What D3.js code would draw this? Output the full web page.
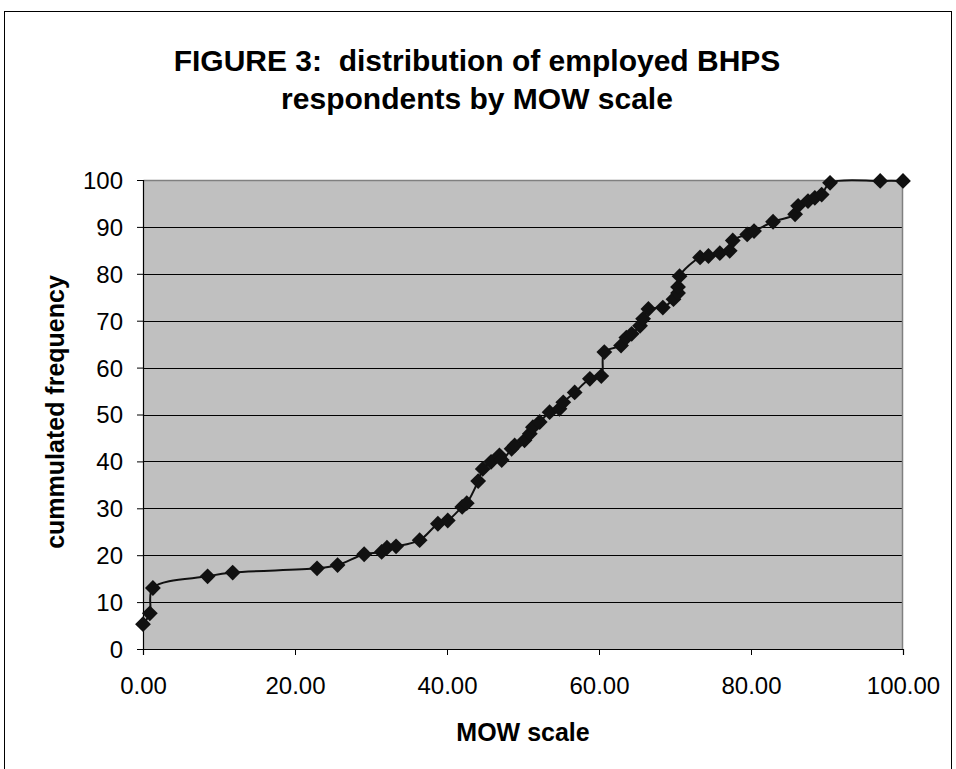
<!DOCTYPE html>
<html>
<head>
<meta charset="utf-8">
<script src="https://cdn.jsdelivr.net/npm/d3@7"></script>
<style>
  body { margin: 0; background: #fff; }
  text { font-family: "Liberation Sans", Arial, sans-serif; }
</style>
</head>
<body>
<div id="chart"></div>
<script>
// ========== data ==========
var mowScale = [0, 0.9, 1.3, 8.5, 11.8, 22.9, 25.6, 29.1, 31.4, 32.1, 33.3, 36.4, 38.8, 40.1, 42.0, 42.6,
  44.1, 44.7, 45.8, 46.9, 47.2, 48.5, 48.9, 50.2, 50.9, 51.3, 52.2, 53.5, 54.8, 55.3, 56.8, 58.8, 60.3,
  60.7, 62.9, 63.6, 64.3, 65.4, 65.8, 66.5, 68.4, 69.8, 70.4, 70.4, 70.6, 73.3, 74.4, 75.9, 77.2, 77.6,
  79.5, 80.4, 82.9, 85.8, 86.2, 87.5, 88.4, 89.3, 90.4, 97.0, 100];
var cumFreq = [5.3, 7.6, 13.0, 15.5, 16.3, 17.2, 17.9, 20.2, 20.7, 21.6, 21.9, 23.2, 26.7, 27.4, 30.3, 31.1,
  35.8, 38.4, 39.9, 41.3, 40.3, 42.7, 43.4, 44.5, 45.9, 47.3, 48.4, 50.5, 51.2, 52.6, 54.7, 57.6, 58.2,
  63.3, 64.7, 66.4, 67.2, 68.9, 70.4, 72.5, 72.8, 74.6, 75.9, 77.2, 79.5, 83.5, 83.8, 84.4, 84.9, 87.1,
  88.4, 89.1, 91.1, 92.7, 94.5, 95.5, 96.2, 96.9, 99.4, 99.8, 99.8];
var xTicks = [0, 20, 40, 60, 80, 100];
var yTicks = [0, 10, 20, 30, 40, 50, 60, 70, 80, 90, 100];

var data = mowScale.map(function(x, i) { return {x: x, y: cumFreq[i]}; });

// ========== chart setup ==========
var svgWidth = 956, svgHeight = 769;
var margin = {top: 180, right: 53, bottom: 120, left: 143};
var width = 903 - margin.left;
var height = 649 - margin.top;

var svg = d3.select("#chart").append("svg").attr("width", svgWidth).attr("height", svgHeight);

// outer frame
svg.append("rect").attr("x", 4.5).attr("y", 11.5).attr("width", 947).attr("height", 780)
  .attr("fill", "none").attr("stroke", "#000").attr("stroke-width", 1);

var g = svg.append("g").attr("transform", `translate(${margin.left}, ${margin.top})`);

// ========== scales ==========
var xScale = d3.scaleLinear().domain([0, 100]).range([0, width]);
var yScale = d3.scaleLinear().domain([0, 100]).range([height, 0]);

// plot area
g.append("rect").attr("width", width).attr("height", height).attr("fill", "#c0c0c0");

// gridlines
g.append("g").selectAll("line").data(yTicks.filter(d => d > 0 && d < 100)).enter().append("line")
  .attr("x1", 0).attr("x2", width)
  .attr("y1", d => Math.round(yScale(d)) + 0.5).attr("y2", d => Math.round(yScale(d)) + 0.5)
  .attr("stroke", "#000").attr("stroke-width", 1);

// plot border (top/right grey)
g.append("path").attr("d", `M0.5,0.5H${width - 0.5}V${height}`)
  .attr("fill", "none").attr("stroke", "#808080").attr("stroke-width", 1.5);

// ========== axes ==========
var xAxis = d3.axisBottom(xScale).tickValues(xTicks).tickSize(6).tickPadding(22)
  .tickFormat(d3.format(".2f"));
var yAxis = d3.axisLeft(yScale).tickValues(yTicks).tickSize(6).tickPadding(14);

var gx = g.append("g").attr("transform", `translate(0, ${height})`).call(xAxis);
var gy = g.append("g").call(yAxis);
[gx, gy].forEach(function(a) {
  a.select(".domain").attr("stroke", "#000").attr("stroke-width", 1.2);
  a.selectAll(".tick line").attr("stroke", "#000");
  a.selectAll(".tick text").attr("font-size", "24px").attr("fill", "#000")
    .attr("font-family", "'Liberation Sans', Arial, sans-serif");
});
gy.selectAll(".tick text").attr("dy", "0.35em");

// ========== line and markers ==========
var line = d3.line().x(d => xScale(d.x)).y(d => yScale(d.y)).curve(d3.curveCatmullRom.alpha(0.5));

g.append("path").datum(data).attr("d", line)
  .attr("fill", "none").attr("stroke", "#111").attr("stroke-width", 2);

g.append("g").selectAll("path").data(data).enter().append("path")
  .attr("d", d3.symbol(d3.symbolSquare, 125))
  .attr("transform", d => `translate(${xScale(d.x)}, ${yScale(d.y)}) rotate(45)`)
  .attr("fill", "#111");

// ========== titles ==========
svg.append("text").attr("x", 477).attr("y", 71).attr("text-anchor", "middle")
  .attr("font-size", "30px").style("font-weight", "bold").attr("xml:space", "preserve")
  .text("FIGURE 3:  distribution of employed BHPS");
svg.append("text").attr("x", 477).attr("y", 109).attr("text-anchor", "middle")
  .attr("font-size", "30px").style("font-weight", "bold")
  .text("respondents by MOW scale");

svg.append("text").attr("x", 523).attr("y", 741).attr("text-anchor", "middle")
  .attr("font-size", "25px").style("font-weight", "bold").text("MOW scale");

svg.append("text").attr("transform", "translate(64, 412) rotate(-90)").attr("text-anchor", "middle")
  .attr("font-size", "25px").style("font-weight", "bold").text("cummulated frequency");
</script>
</body>
</html>
